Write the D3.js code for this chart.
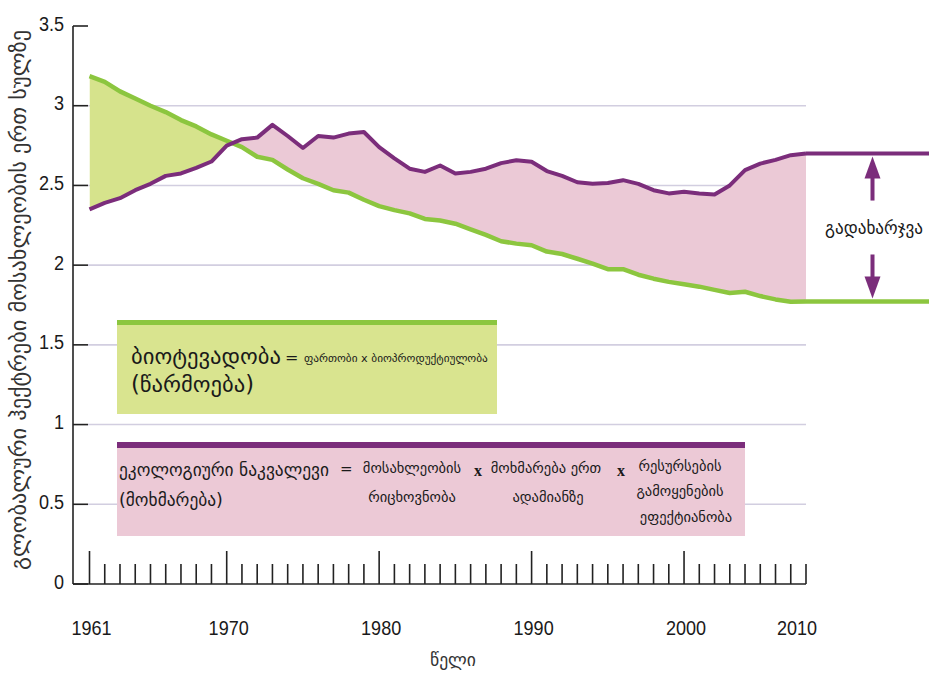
<!DOCTYPE html>
<html><head><meta charset="utf-8">
<script src="https://cdn.jsdelivr.net/npm/d3@7"></script>
<style>body{margin:0;background:#fff}svg{display:block}</style>
</head><body>
<svg id="c" width="929" height="675"></svg>
<script>
// ---------- data ----------
const years = [1961,1962,1963,1964,1965,1966,1967,1968,1969,1970,
  1971,1972,1973,1974,1975,1976,1977,1978,1979,1980,
  1981,1982,1983,1984,1985,1986,1987,1988,1989,1990,
  1991,1992,1993,1994,1995,1996,1997,1998,1999,2000,
  2001,2002,2003,2004,2005,2006,2007,2008];
const biocapacity = [3.185,3.15,3.09,3.045,3.00,2.96,2.91,2.87,2.82,2.78,
  2.74,2.68,2.66,2.60,2.545,2.51,2.47,2.455,2.41,2.37,
  2.345,2.325,2.29,2.28,2.26,2.225,2.19,2.15,2.135,2.125,
  2.085,2.07,2.04,2.01,1.975,1.975,1.94,1.915,1.895,1.88,
  1.865,1.845,1.825,1.833,1.806,1.785,1.77,1.772];
const footprint = [2.35,2.39,2.42,2.47,2.51,2.56,2.575,2.61,2.65,2.75,
  2.79,2.80,2.88,2.81,2.735,2.81,2.80,2.825,2.835,2.74,
  2.67,2.605,2.585,2.625,2.575,2.585,2.605,2.64,2.658,2.648,
  2.59,2.56,2.52,2.51,2.515,2.533,2.51,2.47,2.45,2.46,
  2.45,2.443,2.50,2.596,2.637,2.66,2.69,2.70];
const yTickValues = [0,0.5,1,1.5,2,2.5,3,3.5];
const gridValues = [0.5,1,1.5,2,2.5,3];
const xMajorYears = [1961,1970,1980,1990,2000];
const xLabelYears = [1961,1970,1980,1990,2000,2010];
const yTitle = "გლობალური ჰექტრები მოსახლეობის ერთ სულზე";
const xTitle = "წელი";
const overshootLabel = "გადახარჯვა";

const C = {green:"#8cc63f", greenFill:"#d6e38c", purple:"#7b2d7b", pinkFill:"#ebc9d6",
  grid:"#d2cee0", ink:"#1a1a1a"};
const GEO = "DejaVu Sans, sans-serif";
const NUM = "Liberation Sans, Arial, sans-serif";

const data = years.map((yr,i)=>({yr, b:biocapacity[i], f:footprint[i]}));
const svg = d3.select("#c");
const x = d3.scaleLinear().domain([1961,2008]).range([89.5,806]);
const y = d3.scaleLinear().domain([0,3.5]).range([584,26]);
const xEnd = 929;

function fit(sel, w){
  const L = sel.node().getComputedTextLength();
  const fs = parseFloat(sel.attr("font-size"));
  if (L>0) sel.attr("font-size", (fs*w/L).toFixed(2));
  return sel;
}

// gridlines
svg.append("g").selectAll("line").data(gridValues).join("line")
  .attr("x1",88).attr("x2",x(2008)).attr("y1",d=>y(d)).attr("y2",d=>y(d))
  .attr("stroke",C.grid).attr("stroke-width",1.6);

// fills
const defs = svg.append("defs");
const aboveF = d3.area().x(d=>x(d.yr)).y0(d=>y(d.f)).y1(0);
const aboveB = d3.area().x(d=>x(d.yr)).y0(d=>y(d.b)).y1(0);
defs.append("clipPath").attr("id","clipAboveF").append("path").attr("d",aboveF(data));
defs.append("clipPath").attr("id","clipAboveB").append("path").attr("d",aboveB(data));
const between = d3.area().x(d=>x(d.yr)).y0(d=>y(d.f)).y1(d=>y(d.b));
svg.append("path").attr("d",between(data)).attr("fill",C.greenFill).attr("clip-path","url(#clipAboveF)");
svg.append("path").attr("d",between(data)).attr("fill",C.pinkFill).attr("clip-path","url(#clipAboveB)");

function txt(g, s, xx, yy, fs, anchor, w){
  const t = g.append("text").attr("x",xx).attr("y",yy).attr("font-family",GEO)
    .attr("font-size",fs).attr("fill",C.ink).attr("text-anchor",anchor||"start")
    .attr("dominant-baseline","central").text(s);
  if (w) fit(t,w);
  return t;
}

// legend boxes
const gb = svg.append("g");
gb.append("rect").attr("x",117).attr("y",320).attr("width",380).attr("height",94).attr("fill","#d9e48f");
gb.append("rect").attr("x",117).attr("y",320).attr("width",380).attr("height",5).attr("fill",C.green);
const g1 = txt(gb,"ბიოტევადობა",131,356,17,"start",150);
txt(gb,"=",285,357,16,"start");
txt(gb,"ფართობი x ბიოპროდუქტიულობა",304,358,13,"start",184);
txt(gb,"(წარმოება)",131,384,g1.attr("font-size"),"start");

const pb = svg.append("g");
pb.append("rect").attr("x",117).attr("y",442).attr("width",628).attr("height",94).attr("fill","#ecc9d6");
pb.append("rect").attr("x",117).attr("y",442).attr("width",628).attr("height",6).attr("fill",C.purple);
const p1 = txt(pb,"ეკოლოგიური ნაკვალევი",119,470,16,"start",210);
txt(pb,"(მოხმარება)",119,500,p1.attr("font-size"),"start");
txt(pb,"=",340,469,15,"start");
const CS = 14.5;
txt(pb,"მოსახლეობის",412,468,CS,"middle");
txt(pb,"რიცხოვნობა",412,497,CS,"middle");
pb.append("text").attr("x",478).attr("y",470).attr("font-family","Liberation Serif, serif").attr("font-weight","bold")
  .attr("font-size",16).attr("fill",C.ink).attr("text-anchor","middle").attr("dominant-baseline","central").text("x");
txt(pb,"მოხმარება ერთ",546,468,CS,"middle");
txt(pb,"ადამიანზე",548,497,CS,"middle");
pb.append("text").attr("x",621).attr("y",470).attr("font-family","Liberation Serif, serif").attr("font-weight","bold")
  .attr("font-size",16).attr("fill",C.ink).attr("text-anchor","middle").attr("dominant-baseline","central").text("x");
txt(pb,"რესურსების",680,466,CS,"middle");
txt(pb,"გამოყენების",680,491,CS,"middle");
txt(pb,"ეფექტიანობა",686,517,CS,"middle");

// lines
const lineB = d3.line().x(d=>x(d.yr)).y(d=>y(d.b));
const lineF = d3.line().x(d=>x(d.yr)).y(d=>y(d.f));
const last = data[data.length-1];
svg.append("line").attr("x1",x(2008)).attr("x2",xEnd).attr("y1",y(last.b)).attr("y2",y(last.b))
  .attr("stroke",C.green).attr("stroke-width",4.5);
svg.append("line").attr("x1",x(2008)).attr("x2",xEnd).attr("y1",y(last.f)).attr("y2",y(last.f))
  .attr("stroke",C.purple).attr("stroke-width",4);
svg.append("path").attr("d",lineB(data)).attr("fill","none").attr("stroke",C.green)
  .attr("stroke-width",4.5).attr("stroke-linejoin","round");
svg.append("path").attr("d",lineF(data)).attr("fill","none").attr("stroke",C.purple)
  .attr("stroke-width",4).attr("stroke-linejoin","round");

// y axis
const ax = svg.append("g").attr("stroke","#222").attr("stroke-width",1.6);
ax.append("line").attr("x1",73).attr("x2",73).attr("y1",y(3.5)).attr("y2",y(0));
ax.selectAll(".yt").data(yTickValues).join("line").attr("class","yt")
  .attr("x1",73).attr("x2",88).attr("y1",d=>y(d)).attr("y2",d=>y(d));
svg.append("g").selectAll("text").data(yTickValues).join("text")
  .attr("transform",d=>`translate(64,${y(d)-3}) scale(0.86,1)`)
  .attr("text-anchor","end").attr("dominant-baseline","central")
  .attr("font-family",NUM).attr("font-size",21).attr("fill",C.ink)
  .text(d=>d3.format("")(d));

// x axis
ax.append("line").attr("x1",73).attr("x2",x(2008)).attr("y1",y(0)).attr("y2",y(0));
ax.selectAll(".xt").data(years).join("line").attr("class","xt")
  .attr("x1",d=>x(d)).attr("x2",d=>x(d)).attr("y1",y(0))
  .attr("y2",d=>y(0)-(xMajorYears.includes(d)?33:20));
svg.append("g").selectAll("text").data(xLabelYears).join("text")
  .attr("transform",d=>`translate(${Math.min(x(d)+2, x(2008)-9)},627) scale(0.86,1)`)
  .attr("text-anchor","middle")
  .attr("dominant-baseline","central").attr("font-family",NUM).attr("font-size",21)
  .attr("fill",C.ink).text(d=>d);

// titles
txt(svg,xTitle,453,660,16,"middle",46).attr("fill","#333");
const yt = svg.append("text").attr("transform","translate(18,300) rotate(-90)")
  .attr("text-anchor","middle").attr("dominant-baseline","central")
  .attr("font-family",GEO).attr("font-size",16).attr("fill","#333").text(yTitle);
fit(yt,540);

// overshoot annotation
const ax2 = 872.5, yTop = y(last.f)+3, yBot = y(last.b)-3;
const ann = svg.append("g").attr("fill",C.purple);
ann.append("rect").attr("x",ax2-2).attr("y",yTop+20).attr("width",4).attr("height",24);
ann.append("path").attr("d",`M${ax2},${yTop} L${ax2-8},${yTop+22} L${ax2+8},${yTop+22} Z`);
ann.append("rect").attr("x",ax2-2).attr("y",yBot-44).attr("width",4).attr("height",24);
ann.append("path").attr("d",`M${ax2},${yBot} L${ax2-8},${yBot-22} L${ax2+8},${yBot-22} Z`);
txt(svg,overshootLabel,874,(yTop+yBot)/2,16,"middle",98);
</script>
</body></html>
